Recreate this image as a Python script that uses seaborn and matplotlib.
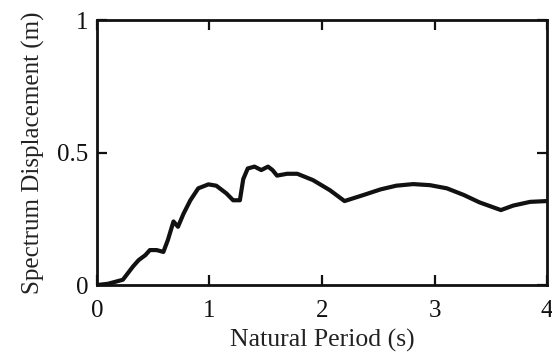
import numpy as np
import pandas as pd
import matplotlib
matplotlib.use("Agg")
import matplotlib.pyplot as plt
import seaborn as sns

# Displacement response spectrum
period = [0.00, 0.10, 0.23, 0.32, 0.37, 0.43, 0.47, 0.53, 0.59, 0.63, 0.68, 0.72,
          0.77, 0.83, 0.90, 0.99, 1.06, 1.15, 1.21, 1.27, 1.30, 1.34, 1.40, 1.46,
          1.52, 1.56, 1.60, 1.69, 1.78, 1.92, 2.07, 2.20, 2.37, 2.52, 2.66, 2.81,
          2.96, 3.11, 3.26, 3.40, 3.59, 3.70, 3.85, 4.00]
displacement = [0.000, 0.005, 0.020, 0.070, 0.094, 0.113, 0.132, 0.132, 0.125, 0.170,
                0.240, 0.220, 0.270, 0.320, 0.365, 0.380, 0.375, 0.346, 0.320, 0.320,
                0.400, 0.440, 0.447, 0.434, 0.447, 0.434, 0.413, 0.420, 0.420, 0.396,
                0.358, 0.317, 0.340, 0.361, 0.375, 0.381, 0.377, 0.365, 0.340, 0.312,
                0.283, 0.300, 0.314, 0.317]

x_ticks = [0, 1, 2, 3, 4]
y_ticks = [0, 0.5, 1]
y_tick_labels = ["0", "0.5", "1"]

sns.set_style("ticks")
plt.rcParams["font.family"] = ["Liberation Serif", "DejaVu Serif"]

df = pd.DataFrame({"period": period, "disp": displacement})

fig = plt.figure(figsize=(5.52, 3.59), dpi=100)
ax = fig.add_axes([0.1757, 0.206, 0.8153, 0.738])

sns.lineplot(data=df, x="period", y="disp", ax=ax, color="#111111",
             linewidth=3.0, sort=False)

ax.set_xlim(0, 4)
ax.set_ylim(0, 1)
ax.set_xticks(x_ticks)
ax.set_xticklabels([str(t) for t in x_ticks])
ax.set_yticks(y_ticks)
ax.set_yticklabels(y_tick_labels)

for s in ax.spines.values():
    s.set_linewidth(2.0)
    s.set_color("#111111")

ax.tick_params(direction="in", length=7, width=1.6, colors="#111111",
               labelsize=18, top=True, right=True)
ax.tick_params(axis="x", pad=11)
ax.tick_params(axis="y", pad=6)

ax.set_xlabel("Natural Period (s)", fontsize=18.5, labelpad=5, color="#222222")
ax.set_ylabel("Spectrum Displacement (m)", fontsize=18, labelpad=9, color="#222222")

fig.savefig("out.png", dpi=100)
